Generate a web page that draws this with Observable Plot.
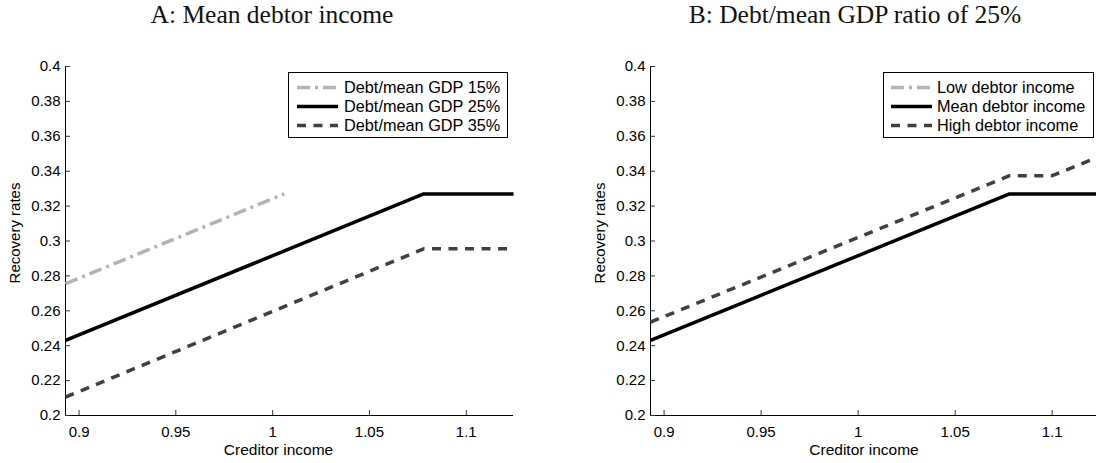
<!DOCTYPE html>
<html>
<head>
<meta charset="utf-8">
<script src="https://cdn.jsdelivr.net/npm/d3@7"></script>
<script src="https://cdn.jsdelivr.net/npm/@observablehq/plot@0.6"></script>
<style>
  html, body { margin: 0; padding: 0; background: #fff; overflow: hidden; }
  #wrap { position: relative; width: 1096px; height: 463px; overflow: hidden; font-family: "Liberation Sans", Arial, sans-serif; }
  .panel { position: absolute; top: 0; }
  .title { position: absolute; font-family: "Liberation Serif", "Times New Roman", serif; font-size: 25.5px; color: #111; white-space: nowrap; transform: translateX(-50%); line-height: 1; }
  .legend { position: absolute; background: #fff; border: 1px solid #000; box-sizing: border-box; }
  .legend .row { position: absolute; left: 0; height: 19px; display: flex; align-items: center; white-space: nowrap; font-size: 16.3px; color: #000; }
  .legend svg { display: block; }
</style>
</head>
<body>
<div id="wrap"></div>
<script>
// ---- data ----
const xTicks = [0.9, 0.95, 1, 1.05, 1.1];
const yTicks = [0.2, 0.22, 0.24, 0.26, 0.28, 0.3, 0.32, 0.34, 0.36, 0.38, 0.4];
const xDomain = [0.893, 1.1244];
const yDomain = [0.2, 0.4];

// Panel A: mean debtor income
const gdp15X = [0.893, 1.006];
const gdp15Y = [0.2755, 0.327];
const gdp25X = [0.893, 1.078, 1.1244];
const gdp25Y = [0.243, 0.327, 0.327];
const gdp35X = [0.893, 1.078, 1.1244];
const gdp35Y = [0.2105, 0.2955, 0.2955];

// Panel B: debt/mean GDP ratio of 25%
const lowX = [];
const lowY = [];
const meanX = [0.893, 1.078, 1.1244];
const meanY = [0.243, 0.327, 0.327];
const highX = [0.893, 1.078, 1.100, 1.1244];
const highY = [0.2535, 0.3374, 0.3374, 0.3484];

const titleA = "A: Mean debtor income";
const titleB = "B: Debt/mean GDP ratio of 25%";
const legendA = ["Debt/mean GDP 15%", "Debt/mean GDP 25%", "Debt/mean GDP 35%"];
const legendB = ["Low debtor income", "Mean debtor income", "High debtor income"];

// ---- styles ----
const styles = [
  {stroke: "#b3b3b3", strokeWidth: 3.5, strokeDasharray: "13,5,3,5"},
  {stroke: "#000000", strokeWidth: 3.5, strokeDasharray: null},
  {stroke: "#404040", strokeWidth: 3.5, strokeDasharray: "9,7.5"}
];

const toRows = (xs, ys) => xs.map((x, i) => ({x, y: ys[i]}));
const fmt = d => String(+d.toFixed(2));

function panel(series, width, marginLeft, marginRight) {
  const marks = [
    Plot.ruleX([xDomain[0]], {stroke: "#000", strokeWidth: 1}),
    Plot.ruleY([yDomain[0]], {stroke: "#000", strokeWidth: 1}),
    Plot.axisX({ticks: xTicks, tickFormat: fmt, tickSize: -5, tickPadding: 16, fontSize: 15, label: null, stroke: "#333"}),
    Plot.axisY({ticks: yTicks, tickFormat: fmt, tickSize: -5, tickPadding: 10, fontSize: 15, label: null, stroke: "#333"})
  ];
  series.forEach((s, i) => {
    if (s.length) marks.push(Plot.line(s, {x: "x", y: "y", ...styles[i], strokeLinejoin: "miter", strokeLinecap: "butt"}));
  });
  marks.push(Plot.text(["Creditor income"], {frameAnchor: "bottom", dy: 39, dx: -11, fontSize: 15.5, fill: "#000", textAnchor: "middle"}));
  marks.push(Plot.text(["Recovery rates"], {frameAnchor: "left", rotate: -90, dx: -50, dy: -8, fontSize: 15, fill: "#000", textAnchor: "middle"}));
  return Plot.plot({
    width, height: 463,
    marginLeft, marginRight, marginTop: 66, marginBottom: 48,
    x: {domain: xDomain},
    y: {domain: yDomain},
    style: {fontFamily: "Liberation Sans, Arial, sans-serif", fontSize: "15px", color: "#000", overflow: "visible", background: "transparent"},
    marks
  });
}

const wrap = document.getElementById("wrap");

function place(el, left) {
  el.classList.add("panel");
  el.style.left = left + "px";
  wrap.appendChild(el);
}

place(panel([toRows(gdp15X, gdp15Y), toRows(gdp25X, gdp25Y), toRows(gdp35X, gdp35Y)], 548, 65, 35), 0);
place(panel([toRows(lowX, lowY), toRows(meanX, meanY), toRows(highX, highY)], 552, 102, 1), 548);

function addTitle(text, cx) {
  const d = document.createElement("div");
  d.className = "title";
  d.textContent = text;
  d.style.left = cx + "px";
  d.style.top = "2px";
  wrap.appendChild(d);
}
addTitle(titleA, 272);
addTitle(titleB, 855);

function addLegend(labels, left, width, sampleX, textX) {
  const box = document.createElement("div");
  box.className = "legend";
  box.style.left = left + "px";
  box.style.top = "72px";
  box.style.width = width + "px";
  box.style.height = "66px";
  labels.forEach((lab, i) => {
    const row = document.createElement("div");
    row.className = "row";
    row.style.top = (5 + i * 19) + "px";
    const ns = "http://www.w3.org/2000/svg";
    const svg = document.createElementNS(ns, "svg");
    svg.setAttribute("width", textX);
    svg.setAttribute("height", 19);
    const ln = document.createElementNS(ns, "line");
    ln.setAttribute("x1", sampleX);
    ln.setAttribute("x2", sampleX + 41);
    ln.setAttribute("y1", 9.5);
    ln.setAttribute("y2", 9.5);
    ln.setAttribute("stroke", styles[i].stroke);
    ln.setAttribute("stroke-width", styles[i].strokeWidth);
    if (styles[i].strokeDasharray) ln.setAttribute("stroke-dasharray", styles[i].strokeDasharray);
    svg.appendChild(ln);
    row.appendChild(svg);
    const t = document.createElement("span");
    t.textContent = lab;
    row.appendChild(t);
    box.appendChild(row);
  });
  wrap.appendChild(box);
}
addLegend(legendA, 288, 220, 8, 55);
addLegend(legendB, 883, 211, 7, 53);
</script>
</body>
</html>
